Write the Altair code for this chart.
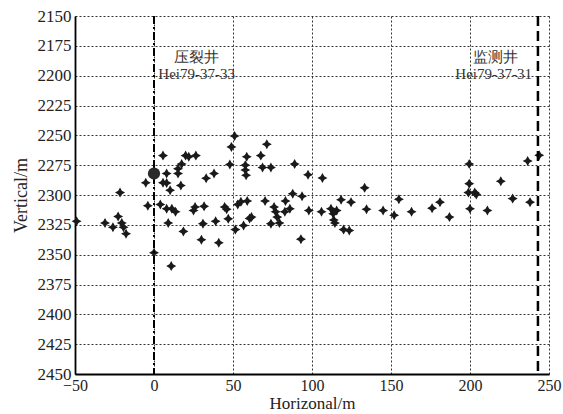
import altair as alt
import pandas as pd

# microseismic event positions
xs = [-49, -31, -26, -21.5, -22.7, -20.4, -19.3, -17.7, -5.2, -3.9,
      0, 5.7, 5.7, 8, 8, 4, 8, 10.2, 9, 10.9,
      15.2, 15.2, 17.5, 20, 22, 26.5, 17, 11.3, 13.6, 18.6,
      25, 26, 31.7, 30, 31, 33, 38, 39, 41, 44.7,
      46, 47, 48, 49, 51, 51.5, 53, 55, 56.7, 58.7,
      57.8, 57.8, 58.3, 59, 60.5, 61.7, 67.6, 68.7, 71.4, 70.3,
      74, 74, 76, 77, 78, 79.4, 82.8, 83.2, 86, 87.8,
      89, 93, 93.7, 97.5, 98, 106.6, 106, 112, 113.4, 113.8,
      114.5, 115.6, 118.4, 120, 123.6, 124.7, 133.3, 134.5, 145, 152,
      155, 163, 176, 181, 187, 199.5, 199.5, 199, 200, 203,
      204, 211, 219.5, 227, 236.5, 238, 243.8]
ys = [2322, 2323.5, 2327, 2298, 2318, 2323.5, 2327, 2332.5, 2289.7, 2309,
      2348.4, 2267, 2289.7, 2282, 2290, 2308, 2311.5, 2296, 2323.5, 2359.6,
      2278, 2282, 2274, 2267, 2268, 2267, 2292, 2311.5, 2314, 2330.5,
      2313, 2310, 2309.5, 2337.5, 2324, 2286, 2282, 2322, 2340, 2310,
      2312, 2320, 2274.5, 2259.7, 2250.5, 2329, 2308, 2305.6, 2325.5, 2268,
      2275, 2279, 2283.5, 2305, 2319.6, 2318.5, 2267, 2277, 2257.5, 2305,
      2277, 2324, 2310, 2314, 2318.5, 2323.5, 2314, 2305, 2311.5, 2299,
      2274, 2337, 2301, 2283, 2313, 2285.7, 2314, 2311.5, 2315.7, 2321,
      2323.5, 2313, 2304, 2329, 2329.7, 2306, 2294, 2312, 2313, 2317,
      2303.6, 2314, 2311, 2306, 2318.5, 2274, 2290.5, 2298, 2311.5, 2298,
      2299.5, 2313, 2288.5, 2303, 2271.5, 2306, 2266.7]

# perforation point
perf_x = [0]
perf_y = [2282]

# wells
frac_well_x = [0]
monitor_well_x = [243]

label_x = [27, 27, 216, 215]
label_y = [2184, 2199, 2184, 2199]
label_text = ["压裂井", "Hei79-37-33", "监测井", "Hei79-37-31"]

x_ticks = [-50, 0, 50, 100, 150, 200, 250]
y_ticks = [2150, 2175, 2200, 2225, 2250, 2275, 2300, 2325, 2350, 2375, 2400, 2425, 2450]

FONT = "Liberation Serif"
star = "M0,-1 L0.36,-0.36 L1,0 L0.36,0.36 L0,1 L-0.36,0.36 L-1,0 L-0.36,-0.36 Z"

xscale = alt.Scale(domain=[-50, 250], nice=False, zero=False)
yscale = alt.Scale(domain=[2150, 2450], reverse=True, nice=False, zero=False)

xaxis = alt.Axis(values=x_ticks, title="Horizonal/m", grid=True, gridDash=[2, 2],
                 gridColor="#333", gridWidth=1, domainColor="black", domainWidth=1.8,
                 ticks=False, labelPadding=3, labelFont=FONT, labelFontSize=16,
                 labelColor="#222", titleFont=FONT, titleFontSize=17,
                 titleFontWeight="normal", titleColor="#222", titlePadding=2,
                 labelFlush=False, labelOverlap=False, format="d")
yaxis = alt.Axis(values=y_ticks, title="Vertical/m", grid=True, gridDash=[2, 2],
                 gridColor="#333", gridWidth=1, domainColor="black", domainWidth=1.8,
                 ticks=False, labelPadding=4, labelFont=FONT, labelFontSize=17,
                 labelColor="#222", titleFont=FONT, titleFontSize=18,
                 titleFontWeight="normal", titleColor="#222", titlePadding=7,
                 labelFlush=False, labelOverlap=False, format="d")


def X(field):
    return alt.X(field, scale=xscale, axis=xaxis)


def Y(field):
    return alt.Y(field, scale=yscale, axis=yaxis)


events = pd.DataFrame({"x": xs, "y": ys})
pts = alt.Chart(events).mark_point(shape=star, filled=True, color="#1a1a1a",
                                   size=100, opacity=1).encode(
    x=X("x:Q"), y=Y("y:Q"))

perf = alt.Chart(pd.DataFrame({"x": perf_x, "y": perf_y})).mark_circle(
    size=150, color="#2a2a2a", opacity=1).encode(x=X("x:Q"), y=Y("y:Q"))

frac = alt.Chart(pd.DataFrame({"x": frac_well_x})).mark_rule(
    color="black", strokeWidth=2, strokeDash=[8, 3, 2, 3]).encode(x=X("x:Q"))

mon = alt.Chart(pd.DataFrame({"x": monitor_well_x})).mark_rule(
    color="black", strokeWidth=2.5, strokeDash=[10, 5]).encode(x=X("x:Q"))

labels = alt.Chart(pd.DataFrame({"x": label_x, "y": label_y, "t": label_text})).mark_text(
    font=FONT, fontSize=15, color="#333", align="center", baseline="middle").encode(
    x=X("x:Q"), y=Y("y:Q"), text="t:N")

chart = alt.layer(pts, frac, mon, perf, labels).properties(
    width=474, height=358, autosize="none",
    padding={"left": 75, "top": 16, "right": 14, "bottom": 40},
    background="white",
).configure_view(stroke=None)

chart.save("out.html", embed_options={"renderer": "svg", "actions": False})
